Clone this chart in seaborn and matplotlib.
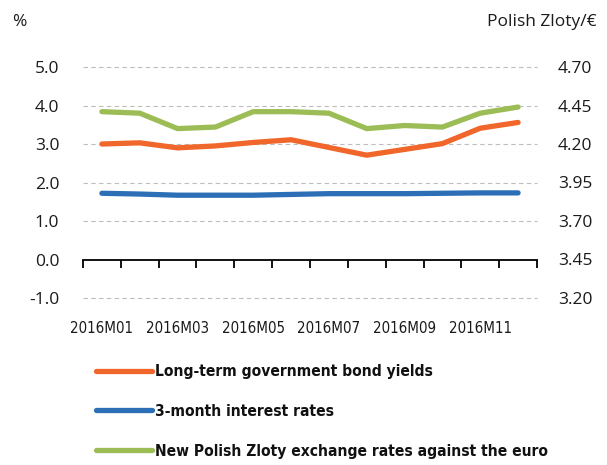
import matplotlib
matplotlib.use("Agg")
import matplotlib.pyplot as plt
import seaborn as sns
import pandas as pd
import numpy as np
from matplotlib.ticker import FixedLocator, NullFormatter

# Monthly data, Poland 2016
months = ["2016M01", "2016M02", "2016M03", "2016M04", "2016M05", "2016M06",
          "2016M07", "2016M08", "2016M09", "2016M10", "2016M11", "2016M12"]
bond_yields = [3.00, 3.03, 2.90, 2.95, 3.04, 3.11, 2.91, 2.71, 2.86, 3.01, 3.41, 3.56]
interest_3m = [1.72, 1.70, 1.67, 1.67, 1.67, 1.69, 1.71, 1.71, 1.71, 1.72, 1.73, 1.73]
pln_per_eur = [4.41, 4.40, 4.30, 4.31, 4.41, 4.41, 4.40, 4.30, 4.32, 4.31, 4.40, 4.44]

left_ticks = [-1.0, 0.0, 1.0, 2.0, 3.0, 4.0, 5.0]
right_ticks = [3.20, 3.45, 3.70, 3.95, 4.20, 4.45, 4.70]

labels = ["Long-term government bond yields",
          "3-month interest rates",
          "New Polish Zloty exchange rates against the euro"]
colors = ["#F1662A", "#2C6FB6", "#9CBD56"]

sns.set_theme(style="white")
plt.rcParams["font.family"] = ["Open Sans", "DejaVu Sans"]

df = pd.DataFrame({"month": months, "bond": bond_yields,
                   "rate3m": interest_3m, "fx": pln_per_eur})

fig = plt.figure(figsize=(6.07, 4.65), dpi=100)
ax = fig.add_axes([83 / 607, 1 - 298 / 465, (537 - 83) / 607, (298 - 67) / 465])
ax2 = ax.twinx()

lw = 3.8
sns.lineplot(data=df, x="month", y="bond", ax=ax, color=colors[0], lw=lw,
             solid_capstyle="round", label=labels[0], legend=False, sort=False)
sns.lineplot(data=df, x="month", y="rate3m", ax=ax, color=colors[1], lw=lw,
             solid_capstyle="round", label=labels[1], legend=False, sort=False)
sns.lineplot(data=df, x="month", y="fx", ax=ax2, color=colors[2], lw=lw,
             solid_capstyle="round", label=labels[2], legend=False, sort=False)

n = len(months)
ax.set_xlim(-0.5, n - 0.5)
ax.set_ylim(left_ticks[0], left_ticks[-1])
ax2.set_ylim(right_ticks[0], right_ticks[-1])

# dashed gridlines
for v in left_ticks:
    if v != 0:
        ax.axhline(v, color="#BDBDBD", lw=0.8, ls=(0, (4, 3)), zorder=0,
                   clip_on=False)

for a in (ax, ax2):
    for s in a.spines.values():
        s.set_visible(False)
    a.set_xlabel("")
    a.set_ylabel("")
    a.set_facecolor("none")

narrow = dict(family="DejaVu Sans", stretch="condensed")

# zero axis with category boundary ticks
ax.spines["bottom"].set_visible(True)
ax.spines["bottom"].set_position(("data", 0))
ax.spines["bottom"].set_color("black")
ax.spines["bottom"].set_linewidth(1.3)
ax.xaxis.set_minor_locator(FixedLocator(np.arange(-0.5, n, 1.0)))
ax.xaxis.set_minor_formatter(NullFormatter())
ax.tick_params(axis="x", which="minor", bottom=True, length=6, width=1.3,
               color="black", direction="out")
ax.set_xticks(range(0, n, 2))
ax.set_xticklabels(months[::2], fontsize=10.8, **narrow)
ax.tick_params(axis="x", which="major", length=0, pad=44, colors="#1a1a1a")

ax.set_yticks(left_ticks)
ax.set_yticklabels([f"{v:.1f}" for v in left_ticks], fontsize=12.5)
ax.tick_params(axis="y", length=0, pad=17, colors="#1a1a1a")
ax2.set_yticks(right_ticks)
ax2.set_yticklabels([f"{v:.2f}" for v in right_ticks], fontsize=12.5)
ax2.tick_params(axis="y", length=0, pad=15, colors="#1a1a1a")

fig.text(12 / 607, 1 - 22 / 465, "%", fontsize=12.5, va="center", ha="left",
         color="#1a1a1a")
fig.text(597 / 607, 1 - 22 / 465, "Polish Zloty/€", fontsize=12.5, va="center",
         ha="right", color="#1a1a1a")

handles = ax.get_lines()[:2] + ax2.get_lines()[:1]
leg = fig.legend(handles, labels, loc="upper left",
                 bbox_to_anchor=(96 / 607, 1 - 364 / 465),
                 frameon=False, borderpad=0, borderaxespad=0,
                 handlelength=3.6, handletextpad=0.2,
                 labelspacing=1.6,
                 prop=dict(weight="bold", size=11.2, **narrow))
for t in leg.get_texts():
    t.set_color("#111111")

fig.savefig("out.png", dpi=100)
